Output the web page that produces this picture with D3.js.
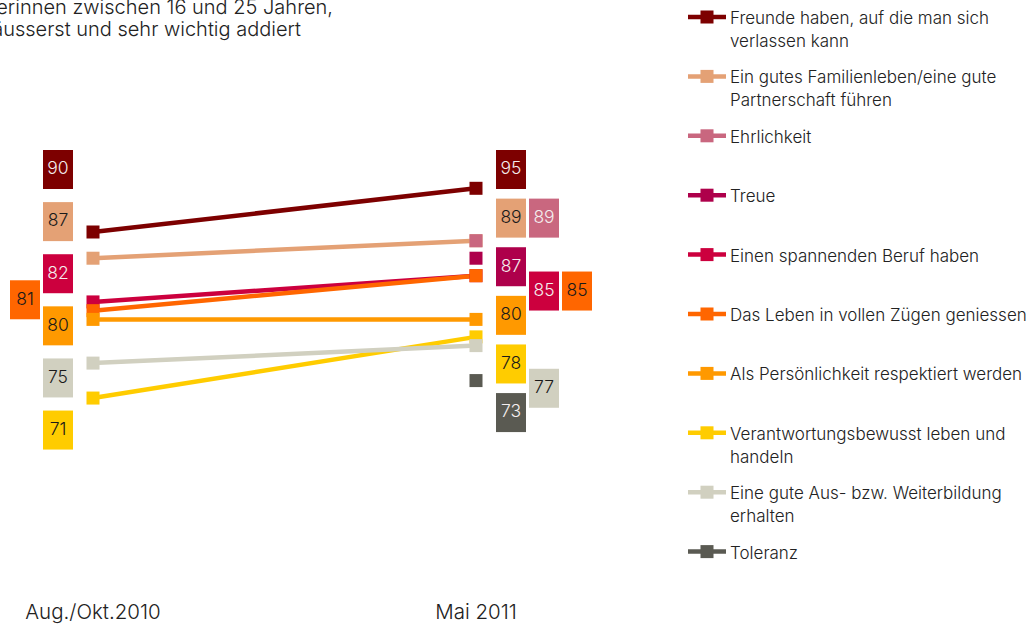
<!DOCTYPE html>
<html><head><meta charset="utf-8">
<script src="https://cdn.jsdelivr.net/npm/d3@7"></script>
<style>
html,body{margin:0;padding:0;background:#fff;overflow:hidden;}
svg{display:block;font-family:Inter,"Open Sans",sans-serif;font-weight:300;}
</style></head><body>
<svg id="chart" width="1032" height="625"></svg>
<script>
// ---- data ----
const periods = ["Aug./Okt.2010", "Mai 2011"];
const seriesNames = [
  "Freunde haben, auf die man sich\nverlassen kann",
  "Ein gutes Familienleben/eine gute\nPartnerschaft führen",
  "Ehrlichkeit",
  "Treue",
  "Einen spannenden Beruf haben",
  "Das Leben in vollen Zügen geniessen",
  "Als Persönlichkeit respektiert werden",
  "Verantwortungsbewusst leben und\nhandeln",
  "Eine gute Aus- bzw. Weiterbildung\nerhalten",
  "Toleranz"
];
const values2010 = [90, 87, null, null, 82, 81, 80, 71, 75, null];
const values2011 = [95, 89, 89, 87, 85, 85, 80, 78, 77, 73];
const seriesColors = ["#7d0000", "#e4a175", "#c9677f", "#ae004b", "#cc003e",
                      "#ff6600", "#ff9900", "#ffcc00", "#d1d0c0", "#5a5a52"];
const titleLines = ["Schüler und Schülerinnen zwischen 16 und 25 Jahren,", "äusserst und sehr wichtig addiert"];

const valuesByPeriod = [values2010, values2011];

// ---- setup ----
const svg = d3.select("#chart");
const x = d3.scalePoint().domain(periods).range([93, 476]);
const y = d3.scaleLinear().domain([70, 100]).range([406.8, 144.6]);

// title (partially cut at the left/top edge, as in the source)
svg.append("g").selectAll("text").data(titleLines).join("text")
  .attr("x", (d, i) => i === 0 ? 333 : 301)
  .attr("y", (d, i) => 14 + i * 22)
  .attr("text-anchor", "end")
  .attr("font-size", 20)
  .attr("fill", "#222")
  .text(d => d);

// x axis labels
svg.append("g").selectAll("text").data(periods).join("text")
  .attr("x", d => x(d))
  .attr("y", 619)
  .attr("text-anchor", "middle")
  .attr("font-size", 20.5)
  .attr("fill", "#222")
  .text(d => d);

// lines
const lineGen = d3.line().x(d => x(d.p)).y(d => y(d.v));
const lineData = seriesNames.map((n, i) => ({
  i, pts: periods.map((p, k) => ({p, v: valuesByPeriod[k][i]})).filter(d => d.v != null)
})).filter(d => d.pts.length > 1);
svg.append("g").selectAll("path").data(lineData).join("path")
  .attr("d", d => lineGen(d.pts))
  .attr("fill", "none")
  .attr("stroke", d => seriesColors[d.i])
  .attr("stroke-width", 4.5);

// markers
const ms = 13;
const markerData = [];
periods.forEach((p, k) => seriesNames.forEach((n, i) => {
  const v = valuesByPeriod[k][i];
  if (v != null) markerData.push({p, v, i});
}));
svg.append("g").selectAll("rect").data(markerData).join("rect")
  .attr("x", d => x(d.p) - ms / 2)
  .attr("y", d => y(d.v) - ms / 2)
  .attr("width", ms).attr("height", ms)
  .attr("fill", d => seriesColors[d.i]);

// value labels: stacked columns beside each period
function layoutLabels(pi) {
  const vals = valuesByPeriod[pi];
  const items = seriesNames.map((n, i) => ({i, v: vals[i]}))
    .filter(d => d.v != null)
    .sort((a, b) => b.v - a.v || a.i - b.i);
  let prevMain = null, sideCount = 0;
  items.forEach((d, k) => {
    const prev = items[k - 1], next = items[k + 1];
    const tiePrev = prev && prev.v === d.v;
    const tieNext = next && next.v === d.v;
    const gap = prevMain ? prevMain.v - d.v : Infinity;
    if (prevMain && (tiePrev || gap <= 1 || (gap <= 2 && tieNext))) {
      sideCount++; d.col = sideCount; d.tieWith = tiePrev ? prev : null; d.prevMain = prevMain;
    } else { d.col = 0; prevMain = d; sideCount = 0; }
  });
  const mains = items.filter(d => d.col === 0);
  const top = 169.5, bottom = y(mains[mains.length - 1].v) + 32;
  const step = (bottom - top) / (mains.length - 1);
  mains.forEach((d, k) => d.ly = top + k * step);
  items.filter(d => d.col > 0).forEach(d => {
    if (d.tieWith) d.ly = d.tieWith.ly;
    else {
      const nm = mains[mains.indexOf(d.prevMain) + 1];
      d.ly = nm ? (d.prevMain.ly + nm.ly) / 2 : d.prevMain.ly + step / 2;
    }
  });
  const dir = pi === 0 ? -1 : 1;
  items.forEach(d => d.lx = x(periods[pi]) + dir * (35 + d.col * 33));
  return items;
}
const labelData = periods.flatMap((p, k) => layoutLabels(k));
const bw = 30, bh = 39;
const lg = svg.append("g").selectAll("g").data(labelData).join("g")
  .attr("transform", d => `translate(${d.lx},${d.ly})`);
lg.append("rect")
  .attr("x", -bw / 2).attr("y", -bh / 2).attr("width", bw).attr("height", bh)
  .attr("fill", d => seriesColors[d.i]);
lg.append("text")
  .attr("text-anchor", "middle").attr("y", -1.5).attr("dy", "0.36em")
  .attr("font-size", 17.5)
  .attr("fill", d => d3.lab(seriesColors[d.i]).l < 59 ? "#f4eeee" : "#1a1a1a")
  .text(d => d.v);

// legend
const leg = svg.append("g").selectAll("g").data(seriesNames).join("g")
  .attr("transform", (d, i) => `translate(0,${17 + i * 59.4})`);
leg.append("line").attr("x1", 688).attr("x2", 726).attr("y1", 0).attr("y2", 0)
  .attr("stroke", (d, i) => seriesColors[i]).attr("stroke-width", 4.5);
leg.append("rect").attr("x", 700.5).attr("y", -6.5).attr("width", 13).attr("height", 13)
  .attr("fill", (d, i) => seriesColors[i]);
leg.append("text").attr("x", 730).attr("y", 7).attr("font-size", 17).attr("fill", "#222")
  .selectAll("tspan").data(d => d.split("\n")).join("tspan")
  .attr("x", 730).attr("dy", (d, j) => j === 0 ? 0 : 23)
  .text(d => d);
</script>
</body></html>
